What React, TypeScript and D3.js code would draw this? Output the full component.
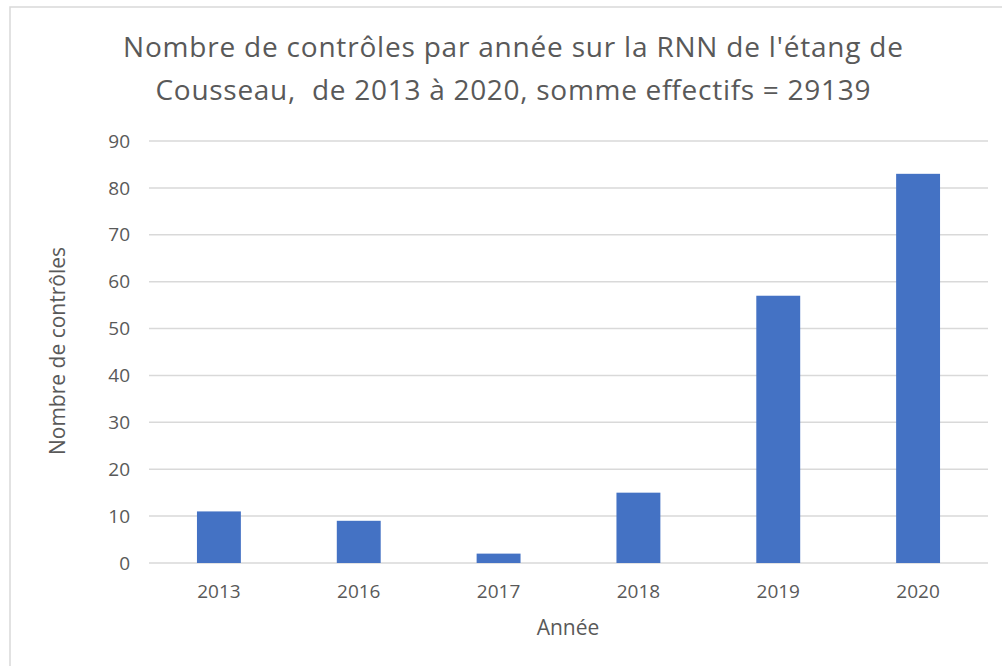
import React, { useEffect, useRef } from "react";
import * as d3 from "d3";

const years = ["2013", "2016", "2017", "2018", "2019", "2020"];
const controls = [11, 9, 2, 15, 57, 83];
const yTicks = [0, 10, 20, 30, 40, 50, 60, 70, 80, 90];
const titleLines = [
  "Nombre de contrôles par année sur la RNN de l'étang de",
  "Cousseau,  de 2013 à 2020, somme effectifs = 29139",
];
const titleWidths = [780, 715];

const width = 1002;
const height = 666;
const margin = { top: 141, right: 14, bottom: 103, left: 149 };
const font = "'Open Sans', sans-serif";
const textColor = "#595959";

export default function App() {
  const svgRef = useRef<SVGSVGElement>(null);

  useEffect(() => {
    const svg = d3.select(svgRef.current);
    svg.selectAll("*").remove();

    const plotW = width - margin.left - margin.right;
    const plotH = height - margin.top - margin.bottom;

    const x = d3.scaleBand().domain(years).range([0, plotW]).paddingInner(0.686).paddingOuter(0.343);
    const y = d3.scaleLinear().domain([0, 90]).range([plotH, 0]);

    svg.append("rect").attr("width", width).attr("height", height).attr("fill", "white");

    // chart area border (only top and left visible)
    svg
      .append("path")
      .attr("d", "M10,1000 L10,7 L1100,7")
      .attr("fill", "none")
      .attr("stroke", "#d9d9d9")
      .attr("stroke-width", 1.5);

    svg
      .append("g")
      .selectAll("text")
      .data(titleLines)
      .join("text")
      .attr("x", 513)
      .attr("y", (d, i) => 57 + i * 43)
      .attr("text-anchor", "middle")
      .attr("font-family", font)
      .attr("font-size", 28)
      .attr("fill", textColor)
      .attr("textLength", (d, i) => titleWidths[i])
      .attr("lengthAdjust", "spacing")
      .style("white-space", "pre")
      .text((d) => d);

    const plot = svg.append("g").attr("transform", `translate(${margin.left}, ${margin.top})`);

    plot
      .append("g")
      .selectAll("line")
      .data(yTicks)
      .join("line")
      .attr("x1", 0)
      .attr("x2", plotW)
      .attr("y1", (d) => y(d))
      .attr("y2", (d) => y(d))
      .attr("stroke", "#d9d9d9")
      .attr("stroke-width", 1.5);

    plot
      .append("g")
      .selectAll("text")
      .data(yTicks)
      .join("text")
      .attr("x", -19)
      .attr("y", (d) => y(d))
      .attr("dy", "0.35em")
      .attr("text-anchor", "end")
      .attr("font-family", font)
      .attr("font-size", 19)
      .attr("fill", textColor)
      .text((d) => d);

    plot
      .append("g")
      .selectAll("rect")
      .data(controls)
      .join("rect")
      .attr("x", (d, i) => x(years[i])!)
      .attr("width", x.bandwidth())
      .attr("y", (d) => y(d))
      .attr("height", (d) => plotH - y(d))
      .attr("fill", "#4472c4");

    plot
      .append("g")
      .selectAll("text")
      .data(years)
      .join("text")
      .attr("x", (d) => x(d)! + x.bandwidth() / 2)
      .attr("y", plotH + 35)
      .attr("text-anchor", "middle")
      .attr("font-family", font)
      .attr("font-size", 19)
      .attr("fill", textColor)
      .text((d) => d);

    svg
      .append("text")
      .attr("x", 568)
      .attr("y", 635)
      .attr("text-anchor", "middle")
      .attr("font-family", font)
      .attr("font-size", 21)
      .attr("fill", textColor)
      .text("Année");

    svg
      .append("text")
      .attr("transform", `translate(65, ${351}) rotate(-90)`)
      .attr("text-anchor", "middle")
      .attr("font-family", font)
      .attr("font-size", 21)
      .attr("fill", textColor)
      .text("Nombre de contrôles");
  }, []);

  return (
    <svg
      ref={svgRef}
      width={width}
      height={height}
      style={{ position: "absolute", left: 0, top: 0, display: "block" }}
    />
  );
}
